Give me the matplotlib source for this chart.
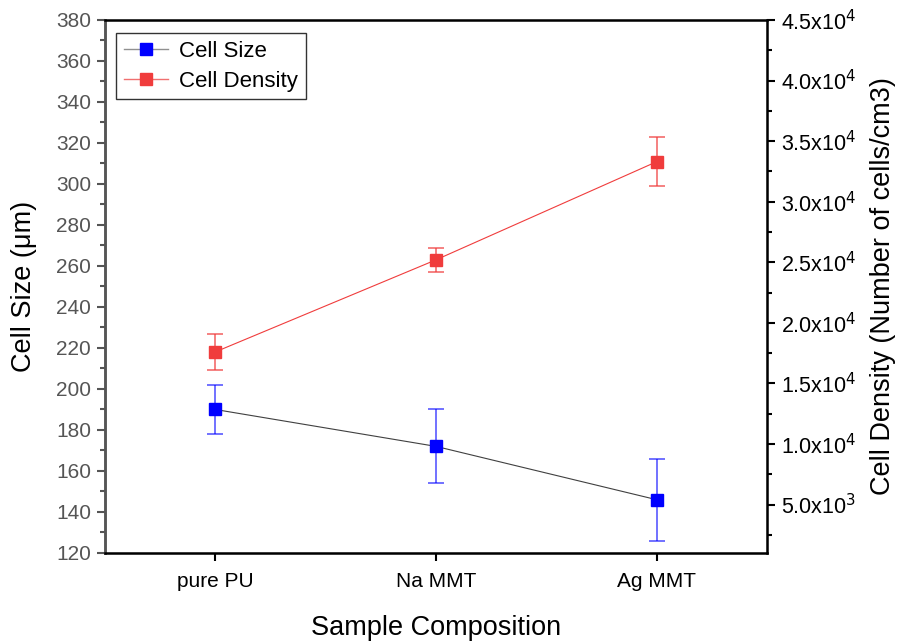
import matplotlib
matplotlib.use("Agg")
import matplotlib.pyplot as plt
from matplotlib.lines import Line2D
from matplotlib.ticker import MultipleLocator, FuncFormatter

plt.rcParams["font.family"] = ["Liberation Sans", "DejaVu Sans"]

# data
samples = ["pure PU", "Na MMT", "Ag MMT"]
cell_size = [190, 172, 146]
cell_size_err = [12, 18, 20]
cell_density = [17600, 25200, 33300]
cell_density_err = [1500, 1000, 2000]

BLUE = "#0000ff"
RED = "#f03c3c"
GREY = "#555555"


def sci_fmt(v, pos):
    if v <= 0:
        return ""
    exp = 0
    m = v
    while m >= 10:
        m /= 10
        exp += 1
    return r"%.1fx10$^{%d}$" % (m, exp)


fig = plt.figure(figsize=(8.98, 6.41), dpi=100)
ax = fig.add_axes([0.1169, 0.1373, 0.8541 - 0.1169, 0.9688 - 0.1373])
ax2 = ax.twinx()

x = list(range(1, len(samples) + 1))

ax.errorbar(x, cell_size, yerr=cell_size_err, color="#404040", lw=0.8,
            marker="s", ms=8.5, mfc=BLUE, mec=BLUE, ecolor=(0, 0, 1, 0.6),
            elinewidth=1.3, capsize=6, capthick=1.3)
ax2.errorbar(x, cell_density, yerr=cell_density_err, color=RED, lw=0.8,
             marker="s", ms=8.5, mfc=RED, mec=RED, ecolor=(0.94, 0.24, 0.24, 0.7),
             elinewidth=1.3, capsize=6, capthick=1.3)

ax.set_xlim(0.5, 3.5)
ax.set_ylim(120, 380)
ax2.set_ylim(1000, 45000)

ax.set_xticks(x)
ax.set_xticklabels(samples)
ax.yaxis.set_major_locator(MultipleLocator(20))
ax.yaxis.set_minor_locator(MultipleLocator(10))
ax2.yaxis.set_major_locator(MultipleLocator(5000))
ax2.yaxis.set_minor_locator(MultipleLocator(2500))
ax2.yaxis.set_major_formatter(FuncFormatter(sci_fmt))

ax.tick_params(axis="x", direction="out", length=6, width=1.5, labelsize=15,
               colors="black", pad=8)
ax.tick_params(axis="y", which="major", direction="out", length=6, width=1.5,
               labelsize=15, colors=GREY, labelcolor=GREY, pad=4)
ax.tick_params(axis="y", which="minor", direction="out", length=3.5, width=1.5,
               colors=GREY)
ax2.tick_params(axis="y", which="major", direction="out", length=6, width=1.5,
                labelsize=15.5, colors="black", pad=4)
ax2.tick_params(axis="y", which="minor", direction="out", length=3.5, width=1.5)

for sp in ("top", "bottom", "right"):
    ax2.spines[sp].set_linewidth(1.8)
    ax2.spines[sp].set_color("black")
ax2.spines["left"].set_linewidth(1.8)
ax2.spines["left"].set_color(GREY)
ax.spines["left"].set_color(GREY)
ax.spines["left"].set_linewidth(1.8)

ax.set_xlabel("Sample Composition", fontsize=19.5, labelpad=17)
ax.set_ylabel("Cell Size (\u03bcm)", fontsize=19.5, labelpad=14)
ax2.set_ylabel("Cell Density (Number of cells/cm3)", fontsize=19.5, labelpad=10)

handles = [
    Line2D([], [], color="#909090", lw=1.0, marker="s", ms=8, mfc=BLUE, mec=BLUE),
    Line2D([], [], color="#f07070", lw=1.0, marker="s", ms=8, mfc=RED, mec=RED),
]
leg = ax.legend(handles, ["Cell Size", "Cell Density"], loc="upper left",
                bbox_to_anchor=(0.0166, 0.9756), fontsize=16, frameon=True,
                fancybox=False, edgecolor="black", handlelength=2.0,
                handletextpad=0.5, borderpad=0.35, labelspacing=0.4,
                borderaxespad=0.0)
leg.get_frame().set_linewidth(1.0)
leg.set_zorder(10)

fig.savefig("out.png", dpi=100)
